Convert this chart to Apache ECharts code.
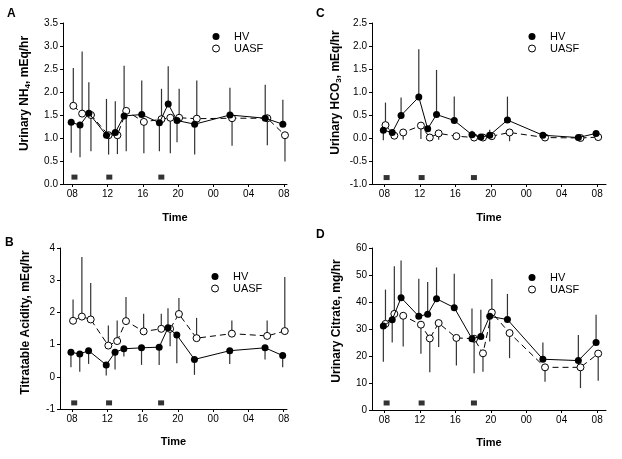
<!DOCTYPE html>
<html>
<head>
<meta charset="utf-8">
<script src="https://cdn.jsdelivr.net/npm/echarts@6/dist/echarts.min.js"></script>
<style>
html, body { margin: 0; padding: 0; background: #fff; }
#chart { width: 622px; height: 459px; }
</style>
</head>
<body>
<div id="chart"></div>
<script>
// sampling times in clock hours (26 = 02 next day)
var times = [8, 9, 10, 12, 13, 14, 16, 18, 19, 20, 22, 26, 30, 32]
var tickHours = [8, 12, 16, 20, 24, 28, 32]
var mealTimes = [8.25, 12.2, 18.1]

// A - urinary NH4
var hvNH4 = [1.34, 1.28, 1.54, 1.06, 1.12, 1.48, 1.51, 1.33, 1.74, 1.38, 1.30, 1.50, 1.43, 1.30]
var hvNH4Bar = [0.68, 0.58, 2.21, 1.85, 1.80, 2.57, 2.25, 0.71, 2.56, 0.91, 0.64, 2.09, 2.16, 1.83]
var uasNH4 = [1.70, 1.53, 1.50, 1.06, 1.06, 1.59, 1.35, 1.41, 1.44, 1.44, 1.42, 1.43, 1.43, 1.06]
var uasNH4Bar = [2.52, 2.88, 0.71, 0.64, 0.65, 0.71, 0.67, 2.07, 0.67, 2.07, 2.25, 0.83, 0.84, 0.49]
var mealNH4 = 0.15

// B - titratable acidity
var hvTA = [0.76, 0.71, 0.81, 0.37, 0.76, 0.87, 0.90, 0.92, 1.52, 1.30, 0.54, 0.81, 0.90, 0.66]
var hvTABar = [0.30, 0.16, 0.40, 0.04, 0.23, 0.63, 0.37, 0.37, 2.13, 0.42, 0.06, 0.40, 0.54, 0.30]
var uasTA = [1.74, 1.87, 1.78, 0.97, 1.11, 1.73, 1.41, 1.49, 1.49, 1.95, 1.20, 1.34, 1.27, 1.42]
var uasTABar = [2.40, 3.72, 2.91, 1.59, 1.75, 2.48, 1.96, 1.96, 0.95, 2.45, 1.83, 1.75, 1.75, 3.10]
var mealTA = -0.81

// C - urinary HCO3
var hvHCO3 = [0.17, 0.12, 0.49, 0.89, 0.20, 0.51, 0.38, 0.07, 0.02, 0.06, 0.39, 0.06, 0.01, 0.10]
var hvHCO3Bar = [-0.05, 0.12, 0.88, 1.93, 0.20, 1.48, 0.90, 0.16, 0.02, 0.18, 0.90, 0.06, 0.01, 0.10]
var uasHCO3 = [0.28, 0.05, 0.12, 0.27, 0.01, 0.10, 0.04, 0.01, 0.01, 0.04, 0.12, 0.01, 0.00, 0.02]
var uasHCO3Bar = [0.77, 0.05, -0.04, -0.02, 0.01, -0.04, 0.04, 0.01, 0.01, 0.04, -0.07, 0.01, 0.00, 0.02]
var mealHCO3 = -0.86

// D - urinary citrate
var hvCit = [31.1, 33.4, 41.6, 34.7, 35.5, 41.2, 37.9, 26.4, 27.2, 34.7, 33.5, 18.8, 18.3, 25.0]
var hvCitBar = [17.9, 25.0, 55.4, 48.6, 47.4, 52.8, 50.5, 37.6, 37.1, 25.4, 43.0, 25.0, 27.8, 35.3]
var uasCit = [31.9, 35.6, 34.9, 31.6, 26.5, 32.2, 26.7, 26.4, 21.0, 36.1, 28.5, 15.8, 15.8, 20.9]
var uasCitBar = [44.6, 53.2, 23.5, 20.8, 14.0, 23.3, 16.5, 13.6, 14.2, 48.5, 19.2, 10.5, 8.1, 10.8]
var mealCit = 2.6

var FONT = 'Liberation Sans, Arial, sans-serif'
var SHIFT = 0.12  // small horizontal offset between groups

var panels = [
    { letter: 'A', lx: 12, ly: 15, grid: { left: 63, top: 23, width: 224, height: 161 }, xMin: 6.95, xMax: 32.35,
      yMin: 0, yMax: 3.5, step: 0.5, dec: 1, yName: 'Urinary NH{s|4}, mEq/hr', yGap: 31, xGap: 28, lift: 20,
      hv: hvNH4, hvBar: hvNH4Bar, uas: uasNH4, uasBar: uasNH4Bar, meal: mealNH4, legend: [207, 26] },
    { letter: 'B', lx: 10, ly: 244, grid: { left: 60, top: 248, width: 227, height: 161 }, xMin: 6.64, xMax: 32.37,
      yMin: -1, yMax: 4, step: 1, dec: 0, yName: 'Titratable Acidity, mEq/hr', yGap: 28, xGap: 27, lift: 12,
      hv: hvTA, hvBar: hvTABar, uas: uasTA, uasBar: uasTABar, meal: mealTA, legend: [206, 266] },
    { letter: 'C', lx: 321, ly: 15, grid: { left: 372, top: 23, width: 234, height: 161 }, xMin: 6.6, xMax: 33.0,
      yMin: -1, yMax: 2.5, step: 0.5, dec: 1, yName: 'Urinary HCO{s|3}, mEq/hr', yGap: 29, xGap: 28, lift: 22,
      hv: hvHCO3, hvBar: hvHCO3Bar, uas: uasHCO3, uasBar: uasHCO3Bar, meal: mealHCO3, legend: [523, 26] },
    { letter: 'D', lx: 321, ly: 236, grid: { left: 372, top: 248, width: 234, height: 162 }, xMin: 6.6, xMax: 33.0,
      yMin: 0, yMax: 60, step: 10, dec: 0, yName: 'Urinary Citrate, mg/hr', yGap: 29, xGap: 27, lift: 16,
      hv: hvCit, hvBar: hvCitBar, uas: uasCit, uasBar: uasCitBar, meal: mealCit, legend: [523, 267] }
]

function pts(vals, shift) {
    return times.map(function (t, i) { return [t + shift, vals[i]] })
}
function bars(vals, ends, shift) {
    return times.map(function (t, i) { return [t + shift, vals[i], ends[i]] })
}
function pad(h) {
    h = h % 24
    return (h < 10 ? '0' : '') + h
}

// vertical error whisker from point to its end value
function errBar(params, api) {
    var p0 = api.coord([api.value(0), api.value(1)])
    var p1 = api.coord([api.value(0), api.value(2)])
    return {
        type: 'line',
        shape: { x1: p0[0], y1: p0[1], x2: p1[0], y2: p1[1] },
        style: { stroke: '#333', lineWidth: 1.2 }
    }
}

var grids = [], xAxes = [], yAxes = [], series = [], legends = [], texts = []
var axisLine = { show: true, onZero: false, lineStyle: { color: '#000', width: 1 } }
var axisTick = { show: true, length: 3, lineStyle: { color: '#000' } }

panels.forEach(function (p, k) {
    grids.push(p.grid)
    xAxes.push({
        gridIndex: k, type: 'value', min: p.xMin, max: p.xMax,
        name: 'Time', nameLocation: 'middle', nameGap: p.xGap,
        nameTextStyle: { fontFamily: FONT, fontSize: 11, fontWeight: 'bold', color: '#000' },
        axisLine: axisLine,
        axisTick: { show: true, length: 3, lineStyle: { color: '#000' }, customValues: tickHours },
        axisLabel: { customValues: tickHours, formatter: pad, fontFamily: FONT, fontSize: 10, color: '#000', margin: 5 },
        splitLine: { show: false }
    })
    yAxes.push({
        gridIndex: k, type: 'value', min: p.yMin, max: p.yMax, interval: p.step,
        name: p.yName, nameLocation: 'middle', nameGap: p.yGap,
        nameTextStyle: {
            fontFamily: FONT, fontSize: 12, fontWeight: 'bold', color: '#000',
            padding: [0, 0, 0, p.lift],
            rich: { s: { fontFamily: FONT, fontSize: 8, fontWeight: 'bold', color: '#000', padding: [7, 0, 0, 0] } }
        },
        axisLine: axisLine,
        axisTick: axisTick,
        axisLabel: {
            fontFamily: FONT, fontSize: 10, color: '#000', margin: 5,
            formatter: function (v) { return v.toFixed(p.dec) }
        },
        splitLine: { show: false }
    })
    series.push({
        name: 'HV err', type: 'custom', xAxisIndex: k, yAxisIndex: k, z: 1,
        renderItem: errBar, encode: { x: 0, y: [1, 2] }, data: bars(p.hv, p.hvBar, -SHIFT)
    })
    series.push({
        name: 'UASF err', type: 'custom', xAxisIndex: k, yAxisIndex: k, z: 1,
        renderItem: errBar, encode: { x: 0, y: [1, 2] }, data: bars(p.uas, p.uasBar, SHIFT)
    })
    series.push({
        name: 'UASF', type: 'line', xAxisIndex: k, yAxisIndex: k, z: 2,
        data: pts(p.uas, SHIFT), symbol: 'circle', symbolSize: 7,
        lineStyle: { color: '#000', width: 1, type: [6, 4] },
        itemStyle: { color: '#fff', borderColor: '#000', borderWidth: 1 }
    })
    series.push({
        name: 'HV', type: 'line', xAxisIndex: k, yAxisIndex: k, z: 3,
        data: pts(p.hv, -SHIFT), symbol: 'circle', symbolSize: 7,
        lineStyle: { color: '#000', width: 1 },
        itemStyle: { color: '#000' }
    })
    series.push({
        name: 'meal', type: 'scatter', xAxisIndex: k, yAxisIndex: k,
        data: mealTimes.map(function (t) { return [t, p.meal] }),
        symbol: 'rect', symbolSize: [6, 5], itemStyle: { color: '#000' }
    })
    legends.push({
        left: p.legend[0], top: p.legend[1], orient: 'vertical',
        itemWidth: 26, itemHeight: 7, itemGap: 1, selectedMode: false,
        textStyle: { fontFamily: FONT, fontSize: 11, color: '#000' },
        data: [
            { name: 'HV', icon: 'circle', itemStyle: { color: '#000' } },
            { name: 'UASF', icon: 'circle', itemStyle: { color: '#fff', borderColor: '#000', borderWidth: 1 } }
        ]
    })
    texts.push({
        type: 'text', left: p.lx - 5, top: p.ly - 7,
        style: { text: p.letter, font: 'bold 12px ' + FONT, fill: '#000' }
    })
})

var chart = echarts.init(document.getElementById('chart'))
chart.setOption({
    animation: false,
    backgroundColor: '#fff',
    textStyle: { fontFamily: FONT },
    grid: grids,
    xAxis: xAxes,
    yAxis: yAxes,
    legend: legends,
    graphic: texts,
    series: series
})
</script>
</body>
</html>
